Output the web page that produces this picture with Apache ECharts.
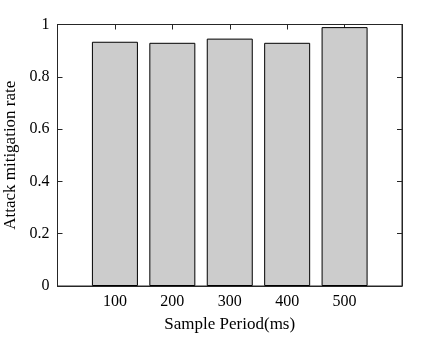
<!DOCTYPE html>
<html><head><meta charset="utf-8">
<script src="https://cdn.jsdelivr.net/npm/echarts@6/dist/echarts.min.js"></script>
<style>html,body{margin:0;padding:0;background:#fff}#c{width:443px;height:338px}</style>
</head><body><div id="c"></div>
<script>
const periods = [100, 200, 300, 400, 500];
const rates = [0.934, 0.930, 0.946, 0.930, 0.990];
const yTicks = [0, 0.2, 0.4, 0.6, 0.8, 1];

const font = 'Liberation Serif';
const axisColor = '#262626';
const chart = echarts.init(document.getElementById('c'), null, {renderer: 'canvas'});
function xAx(pos, labels) {
  return {
    type: 'value', min: 0, max: 600, interval: 100, position: pos, show: true,
    axisLine: {show: true, onZero: false, lineStyle: {color: axisColor, width: 1}},
    axisTick: {show: true, inside: true, length: 5, lineStyle: {color: axisColor, width: 1}},
    splitLine: {show: false},
    axisLabel: labels ? {fontFamily: font, fontSize: 16, color: '#000', margin: 8,
      formatter: v => periods.includes(v) ? String(v) : ''} : {show: false},
    name: labels ? 'Sample Period(ms)' : '', nameLocation: 'middle', nameGap: 30,
    nameTextStyle: {fontFamily: font, fontSize: 17, color: '#000'}
  };
}
function yAx(pos, labels) {
  return {
    type: 'value', min: 0, max: 1, interval: 0.2, position: pos, show: true,
    axisLine: {show: true, onZero: false, lineStyle: {color: axisColor, width: 1}},
    axisTick: {show: true, inside: true, length: 5, lineStyle: {color: axisColor, width: 1}},
    splitLine: {show: false},
    axisLabel: labels ? {fontFamily: font, fontSize: 16, color: '#000', margin: 8,
      formatter: v => { const r = Math.round(v*10)/10; return yTicks.includes(r) ? String(r) : ''; }} : {show: false},
    name: labels ? 'Attack mitigation rate' : '', nameLocation: 'middle', nameGap: 33,
    nameTextStyle: {fontFamily: font, fontSize: 17, color: '#000'}
  };
}
chart.setOption({
  animation: false,
  grid: {left: 57.5, right: 41, top: 24.5, bottom: 52, containLabel: false, outerBoundsMode: 'none',
    show: true, borderColor: axisColor, borderWidth: 1, backgroundColor: 'transparent'},
  xAxis: [xAx('bottom', true), xAx('top', false)],
  yAxis: [yAx('left', true), yAx('right', false)],
  series: [{
    type: 'bar', xAxisIndex: 0, yAxisIndex: 0,
    barWidth: 46,
    data: periods.map((p, i) => [p, rates[i]]),
    itemStyle: {color: '#cccccc', borderColor: '#000', borderWidth: 1}
  }, {
    type: 'line', xAxisIndex: 1, yAxisIndex: 1, data: [], silent: true
  }]
});
</script></body></html>
